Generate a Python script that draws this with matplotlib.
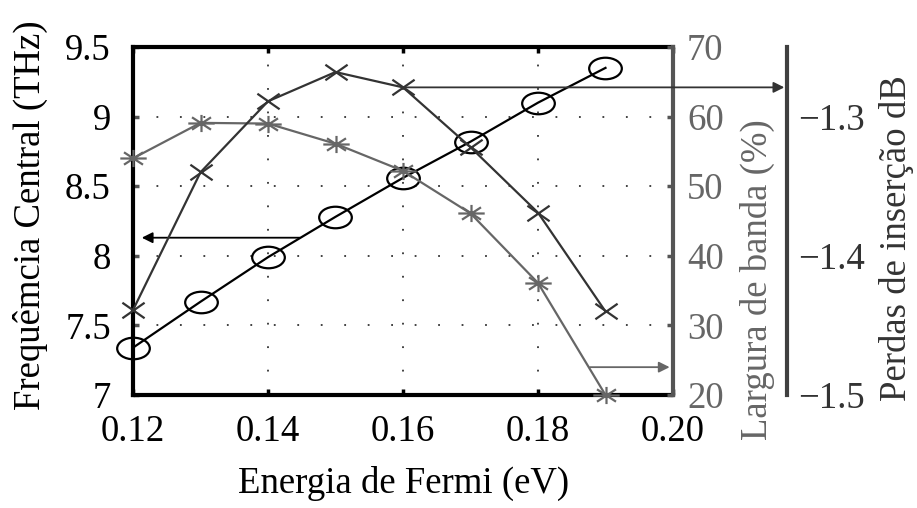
import numpy as np
import matplotlib
matplotlib.use("Agg")
import matplotlib.pyplot as plt
from matplotlib.path import Path
from matplotlib.transforms import Affine2D

plt.rcParams['font.family'] = ['Liberation Serif', 'DejaVu Serif']
plt.rcParams['mathtext.fontset'] = 'stix'

# ---- data ----
fermi = [0.12, 0.13, 0.14, 0.15, 0.16, 0.17, 0.18, 0.19]
freq_thz = [7.34, 7.67, 7.99, 8.28, 8.56, 8.82, 9.10, 9.35]
bandwidth_pct = [54.0, 59.1, 59.0, 56.1, 52.2, 46.1, 36.1, 20.0]
insertion_db = [-1.439, -1.340, -1.289, -1.268, -1.279, -1.322, -1.369, -1.440]

x_ticks = [0.12, 0.14, 0.16, 0.18, 0.20]
x_ticklabels = ['0.12', '0.14', '0.16', '0.18', '0.20']
freq_ticks = [7, 7.5, 8, 8.5, 9, 9.5]
freq_ticklabels = ['7', '7.5', '8', '8.5', '9', '9.5']
bw_ticks = [20, 30, 40, 50, 60, 70]
il_ticks = [-1.5, -1.4, -1.3]
il_ticklabels = ['\u22121.5', '\u22121.4', '\u22121.3']

FS = 26.5
C_FREQ = '#000000'
C_IL = '#333333'
C_BW = '#666666'

# ---- custom stretched markers ----
sx, sy = 1.0, 0.66
circ = Path.unit_circle().transformed(Affine2D().scale(sx, sy))
xm = Path([(-1, -1), (1, 1), (-1, 1), (1, -1)],
          [Path.MOVETO, Path.LINETO, Path.MOVETO, Path.LINETO]).transformed(Affine2D().scale(1.0, 0.7))
d = 0.72
ast = Path([(-1, 0), (1, 0), (0, -1), (0, 1), (-d, -d), (d, d), (-d, d), (d, -d)],
           [Path.MOVETO, Path.LINETO] * 4).transformed(Affine2D().scale(1.0, 0.65))

fig = plt.figure(figsize=(9.17, 5.08), dpi=100)
L, R, B, T = 133/917, 673/917, 1-395/508, 1-47/508
ax = fig.add_axes([L, B, R-L, T-B])
ax_bw = ax.twinx()
ax_il = ax.twinx()

ax.set_xlim(0.12, 0.20)
ax.set_ylim(7, 9.5)
ax_bw.set_ylim(20, 70)
ax_il.set_ylim(-1.5, -1.25)

# grid
ax.grid(True, linestyle=(0, (1, 12)), color='#333333', linewidth=1.3)

ax.set_xticks(x_ticks)
ax.set_xticklabels(x_ticklabels, fontsize=FS)
ax.set_yticks(freq_ticks)
ax.set_yticklabels(freq_ticklabels, fontsize=FS)
ax.tick_params(axis='both', direction='in', length=4, width=2.5, colors='#000000', top=True)
ax.tick_params(axis='x', pad=14)
ax.tick_params(axis='y', pad=16, colors='#555555', labelcolor='#000000')

for s in ['left', 'bottom', 'top']:
    ax.spines[s].set_linewidth(3)
    ax.spines[s].set_color('#000000')
ax.spines['right'].set_visible(False)

ax_bw.set_yticks(bw_ticks)
ax_bw.set_yticklabels([str(v) for v in bw_ticks], fontsize=FS, color=C_BW)
ax_bw.tick_params(axis='y', direction='in', length=4, width=2.5, colors='#555555',
                  labelcolor=C_BW, pad=10)
ax_bw.spines['right'].set_linewidth(3)
ax_bw.spines['right'].set_color('#555555')
for s in ['left', 'bottom', 'top']:
    ax_bw.spines[s].set_visible(False)

ax_il.spines['right'].set_position(('axes', (787-133)/540))
ax_il.spines['right'].set_linewidth(3)
ax_il.spines['right'].set_color('#404040')
for s in ['left', 'bottom', 'top']:
    ax_il.spines[s].set_visible(False)
ax_il.set_yticks(il_ticks)
ax_il.set_yticklabels(il_ticklabels, fontsize=FS, color=C_IL)
ax_il.tick_params(axis='y', length=0, pad=8, labelcolor=C_IL)

# series
ax.plot(fermi, freq_thz, color=C_FREQ, linewidth=1.6, marker=circ, markersize=23.5,
        markerfacecolor='none', markeredgecolor=C_FREQ, markeredgewidth=1.6, zorder=5, clip_on=False)
ax_il.plot(fermi, insertion_db, color=C_IL, linewidth=1.6, marker=xm, markersize=16,
           markeredgecolor=C_IL, markeredgewidth=1.6, zorder=5, clip_on=False)
ax_bw.plot(fermi, bandwidth_pct, color=C_BW, linewidth=1.6, marker=ast, markersize=19,
           markeredgecolor=C_BW, markeredgewidth=1.6, zorder=5, clip_on=False)

# arrows
ax.annotate('', xy=(0.1213, 8.13), xytext=(0.1447, 8.13), xycoords='data',
            arrowprops=dict(arrowstyle='-|>', color='#000000', lw=1.3, mutation_scale=16,
                            shrinkA=0, shrinkB=0))
ax_il.annotate('', xy=((787-133)/540 - 0.005, insertion_db[4]), xytext=(fermi[4], insertion_db[4]),
               xycoords=('axes fraction', 'data'), textcoords='data',
               arrowprops=dict(arrowstyle='-|>', color=C_IL, lw=1.3, mutation_scale=16,
                               shrinkA=0, shrinkB=0), annotation_clip=False)
ax.annotate('', xy=(0.1995, 7.2), xytext=(0.1877, 7.2), xycoords='data',
            arrowprops=dict(arrowstyle='-|>', color=C_BW, lw=1.3, mutation_scale=16,
                            shrinkA=0, shrinkB=0))

# labels
fig.text(404/917, 1-483/508, 'Energia de Fermi (eV)', fontsize=FS, ha='center', va='center')
fig.text(30/917, 1-215/508, 'Frequêmcia Central (THz)', fontsize=FS, ha='center', va='center',
         rotation=90)
fig.text(757/917, 1-280/508, 'Largura de banda (%)', fontsize=FS, ha='center', va='center',
         rotation=90, color=C_BW)
fig.text(897/917, 1-238/508, 'Perdas de inserção dB', fontsize=FS, ha='center', va='center',
         rotation=90, color=C_IL)

fig.savefig('out.png', dpi=100)
